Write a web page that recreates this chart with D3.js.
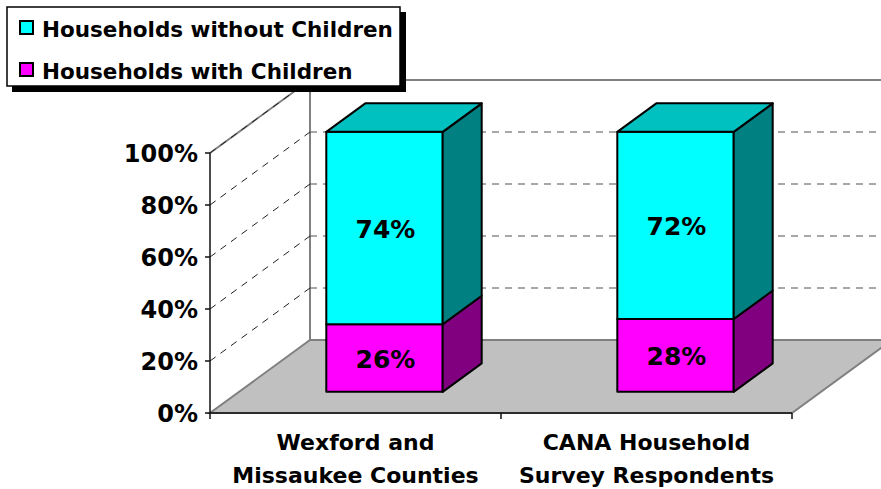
<!DOCTYPE html>
<html>
<head>
<meta charset="utf-8">
<script src="https://cdn.jsdelivr.net/npm/d3@7"></script>
<style>
    body { margin: 0; background: #ffffff; }
    svg { display: block; font-family: "DejaVu Sans", Verdana, sans-serif; font-weight: bold; }
</style>
</head>
<body>
<div id="chart"></div>
<script>
// chart data
let categories = ["Wexford and Missaukee Counties", "CANA Household Survey Respondents"];
let categoryLines = [["Wexford and", "Missaukee Counties"],
                     ["CANA Household", "Survey Respondents"]];
let seriesNames = ["Households without Children", "Households with Children"];
let withChildren = [26, 28];
let withoutChildren = [74, 72];
let yTicks = [0, 20, 40, 60, 80, 100];

// 3d look: how far the back of the floor is pushed right and up
let depth = {dx: 100, dy: -73};
let barDepth = [0.29, 0.68];

let w = 881, h = 489;
let svg = d3.select("#chart")
            .append("svg")
            .attr("width", w)
            .attr("height", h);

let xScale = d3.scaleBand()
               .domain(categories)
               .range([210, 792])
               .paddingInner(0.6)
               .paddingOuter(0.3);

let yScale = d3.scaleLinear()
               .domain([0, 100])
               .range([413, 153]);

// project a front plane point back by fraction d of the depth
function proj(x, y, d) {
    return [x + depth.dx * d, y + depth.dy * d];
}

function poly(points) {
    return "M" + points.map(p => p.join(",")).join("L") + "Z";
}

let x0 = xScale.range()[0], x1 = xScale.range()[1];
let y0 = yScale(0), yTop = yScale(100);

// left wall and back wall outlines
let walls = svg.append("g").attr("fill", "none").attr("stroke", "#808080").attr("stroke-width", 2);
walls.append("path").attr("d", "M" + [x0, yTop] + "L" + proj(x0, yTop, 1));
walls.append("path").attr("d", "M" + proj(x0, yTop, 1) + "L" + proj(x0, y0, 1));
walls.append("path").attr("d", "M" + proj(x0, yTop, 1) + "L" + proj(x1 + 200, yTop, 1));

// dashed gridlines on the side and back wall
let grid = svg.append("g")
              .attr("fill", "none")
              .attr("stroke-width", 1)
              .attr("stroke-dasharray", "7,6");

grid.selectAll(".side")
    .data(yTicks.filter(d => d > 0))
    .enter()
    .append("path")
    .attr("stroke", "#202020")
    .attr("d", d => "M" + [x0, yScale(d)] + "L" + proj(x0, yScale(d), 1));

grid.selectAll(".back")
    .data(yTicks.filter(d => d > 0 && d < 100))
    .enter()
    .append("path")
    .attr("stroke", "#505050")
    .attr("d", d => "M" + proj(x0, yScale(d), 1) + "L" + proj(x1 + 200, yScale(d), 1));

// the floor
svg.append("path")
   .attr("d", poly([[x0, y0], [x1, y0], proj(x1, y0, 1), proj(x0, y0, 1)]))
   .attr("fill", "#c0c0c0")
   .attr("stroke", "#808080")
   .attr("stroke-width", 2);

// axis lines and ticks
let axis = svg.append("g").attr("stroke", "#101010").attr("stroke-width", 1.5);
axis.append("line").attr("x1", x0).attr("x2", x0).attr("y1", yTop).attr("y2", y0 + 6);
axis.append("line").attr("x1", x0).attr("x2", x1).attr("y1", y0).attr("y2", y0);
axis.selectAll(".ytick")
    .data(yTicks)
    .enter()
    .append("line")
    .attr("x1", x0 - 5).attr("x2", x0)
    .attr("y1", d => yScale(d)).attr("y2", d => yScale(d));
axis.selectAll(".xtick")
    .data(categories)
    .enter()
    .append("line")
    .attr("x1", d => xScale(d) + xScale.bandwidth() + xScale.step() * 0.3)
    .attr("x2", d => xScale(d) + xScale.bandwidth() + xScale.step() * 0.3)
    .attr("y1", y0).attr("y2", y0 + 6);

// y tick labels
svg.append("g")
   .selectAll("text")
   .data(yTicks)
   .enter()
   .append("text")
   .attr("x", 198)
   .attr("y", d => yScale(d) + 9)
   .attr("text-anchor", "end")
   .style("font-size", "24px")
   .text(d => d + "%");

// category labels
let catLabels = svg.append("g")
                   .selectAll("text")
                   .data(categories)
                   .enter()
                   .append("text")
                   .attr("text-anchor", "middle")
                   .style("font-size", "22px");

catLabels.selectAll("tspan")
         .data((d, i) => categoryLines[i])
         .enter()
         .append("tspan")
         .attr("x", function() {
             let c = d3.select(this.parentNode).datum();
             return xScale(c) + xScale.bandwidth() / 2;
         })
         .attr("y", (d, i) => 450 + i * 33)
         .text(d => d);

// stacked 3d bars
let bars = svg.append("g")
              .attr("stroke", "#000000")
              .attr("stroke-width", 2)
              .attr("stroke-linejoin", "round");

let segColors = [
    {front: "#ff00ff", side: "#800080", top: "#c000c0"},
    {front: "#00ffff", side: "#008080", top: "#00c0c0"}
];

categories.forEach(function(c, i) {
    let stack = [[0, withChildren[i]],
                 [withChildren[i], withChildren[i] + withoutChildren[i]]];
    let bx0 = xScale(c), bx1 = xScale(c) + xScale.bandwidth();
    let dF = barDepth[0], dB = barDepth[1];

    stack.forEach(function(s, j) {
        let yl = yScale(s[0]), yh = yScale(s[1]);
        let col = segColors[j];

        // front face
        bars.append("path")
            .attr("fill", col.front)
            .attr("d", poly([proj(bx0, yl, dF), proj(bx1, yl, dF),
                             proj(bx1, yh, dF), proj(bx0, yh, dF)]));

        // right side face
        bars.append("path")
            .attr("fill", col.side)
            .attr("d", poly([proj(bx1, yl, dF), proj(bx1, yl, dB),
                             proj(bx1, yh, dB), proj(bx1, yh, dF)]));

        // top face for the topmost segment
        if (j == stack.length - 1) {
            bars.append("path")
                .attr("fill", col.top)
                .attr("d", poly([proj(bx0, yh, dF), proj(bx1, yh, dF),
                                 proj(bx1, yh, dB), proj(bx0, yh, dB)]));
        }

        // value label in the middle of the front face
        let mid = proj((bx0 + bx1) / 2, (yl + yh) / 2, dF);
        svg.append("text")
           .attr("x", mid[0] + 1)
           .attr("y", mid[1] + 9.5)
           .attr("text-anchor", "middle")
           .style("font-size", "25px")
           .text((s[1] - s[0]) + "%");
    });
});

// legend with a drop shadow
let legend = svg.append("g");
legend.append("rect")
      .attr("x", 12).attr("y", 12)
      .attr("width", 394).attr("height", 80)
      .attr("fill", "#000000");
legend.append("rect")
      .attr("x", 7).attr("y", 7)
      .attr("width", 393).attr("height", 79)
      .attr("fill", "#ffffff")
      .attr("stroke", "#000000")
      .attr("stroke-width", 1.5);

let legendColors = ["#00ffff", "#ff00ff"];
let items = legend.selectAll(".item")
                  .data(seriesNames)
                  .enter()
                  .append("g")
                  .attr("transform", (d, i) => "translate(0," + i * 42 + ")");

items.append("rect")
     .attr("x", 20).attr("y", 21)
     .attr("width", 13).attr("height", 13)
     .attr("fill", (d, i) => legendColors[i])
     .attr("stroke", "#000000")
     .attr("stroke-width", 2);

items.append("text")
     .attr("x", 42)
     .attr("y", 37)
     .style("font-size", "21.5px")
     .text(d => d);
</script>
</body>
</html>
